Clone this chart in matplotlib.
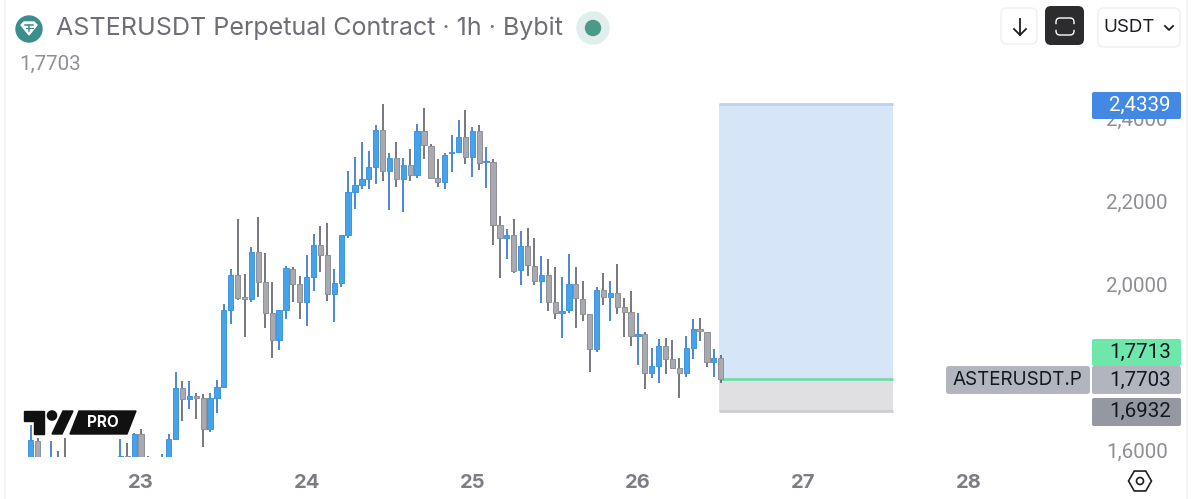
import matplotlib
matplotlib.use('Agg')
import matplotlib.pyplot as plt
from matplotlib.patches import Circle, FancyBboxPatch, Polygon, RegularPolygon

plt.rcParams['font.family'] = ['Inter', 'DejaVu Sans']
NUM_FONT = ['Roboto', 'DejaVu Sans']

# hours since the "23" tick, only candles that show above the bottom of the pane
hours = [-16, -15, -13, -12, -11, -3, -2, -1, 0, 1, 3, 4, 5, 6, 7, 8, 9, 10, 11, 12, 13, 14, 15, 16,
         17, 18, 19, 20, 21, 22, 23, 24, 25, 26, 27, 28, 29, 30, 31, 32, 33, 34, 35, 36, 37, 38, 39, 40,
         41, 42, 43, 44, 45, 46, 47, 48, 49, 50, 51, 52, 53, 54, 55, 56, 57, 58, 59, 60, 61, 62, 63, 64,
         65, 66, 67, 68, 69, 70, 71, 72, 73, 74, 75, 76, 77, 78, 79, 80, 81, 82, 83, 84]
opens = [1.540, 1.622, 1.540, 1.570, 1.575, 1.583, 1.586, 1.550, 1.639, 1.580, 1.575, 1.560, 1.627, 1.749, 1.723, 1.730, 1.725, 1.651, 1.725, 1.752, 1.937, 2.022, 1.969, 1.964,
         2.077, 2.005, 1.930, 1.865, 1.937, 2.036, 2.000, 1.957, 2.017, 2.094, 2.070, 1.976, 2.002, 2.118, 2.222, 2.239, 2.253, 2.282, 2.371, 2.272, 2.304, 2.253, 2.287, 2.263,
         2.369, 2.333, 2.255, 2.246, 2.316, 2.318, 2.354, 2.306, 2.369, 2.294, 2.294, 2.142, 2.111, 2.118, 2.034, 2.092, 2.043, 2.007, 2.022, 1.957, 1.930, 1.937, 2.000, 1.964,
         1.928, 1.843, 1.986, 1.969, 1.978, 1.945, 1.933, 1.875, 1.880, 1.786, 1.802, 1.851, 1.819, 1.798, 1.786, 1.846, 1.892, 1.884, 1.812, 1.822]
highs = [1.660, 1.629, 1.622, 1.598, 1.629, 1.627, 1.617, 1.641, 1.651, 1.586, 1.590, 1.639, 1.788, 1.766, 1.766, 1.737, 1.735, 1.737, 1.769, 1.952, 2.036, 2.157, 2.024, 2.089,
         2.161, 2.075, 2.005, 1.937, 2.043, 2.041, 2.019, 2.070, 2.120, 2.140, 2.147, 2.036, 2.118, 2.272, 2.306, 2.342, 2.320, 2.383, 2.434, 2.316, 2.342, 2.304, 2.325, 2.386,
         2.424, 2.337, 2.301, 2.316, 2.359, 2.395, 2.419, 2.378, 2.383, 2.330, 2.301, 2.164, 2.133, 2.157, 2.128, 2.135, 2.111, 2.067, 2.060, 2.041, 2.017, 2.072, 2.041, 2.007,
         1.928, 1.993, 2.027, 2.007, 2.048, 1.966, 1.983, 1.930, 1.884, 1.846, 1.867, 1.870, 1.865, 1.822, 1.875, 1.916, 1.918, 1.884, 1.843, 1.829]
lows = [1.540, 1.540, 1.540, 1.540, 1.540, 1.575, 1.575, 1.540, 1.540, 1.570, 1.570, 1.550, 1.627, 1.670, 1.699, 1.675, 1.607, 1.643, 1.689, 1.752, 1.904, 1.961, 1.872, 1.957,
        1.969, 1.894, 1.822, 1.841, 1.916, 1.957, 1.916, 1.899, 1.983, 2.029, 1.959, 1.908, 1.993, 2.111, 2.181, 2.229, 2.229, 2.241, 2.248, 2.178, 2.234, 2.173, 2.248, 2.255,
        2.301, 2.255, 2.234, 2.229, 2.270, 2.316, 2.289, 2.258, 2.275, 2.231, 2.094, 2.014, 2.060, 2.027, 1.998, 2.019, 1.998, 1.954, 1.935, 1.916, 1.870, 1.930, 1.894, 1.911,
        1.788, 1.836, 1.949, 1.911, 1.928, 1.872, 1.851, 1.805, 1.747, 1.773, 1.761, 1.783, 1.795, 1.725, 1.776, 1.819, 1.863, 1.800, 1.776, 1.761]
closes = [1.624, 1.540, 1.564, 1.550, 1.550, 1.586, 1.583, 1.639, 1.550, 1.575, 1.583, 1.627, 1.749, 1.723, 1.730, 1.725, 1.651, 1.725, 1.752, 1.937, 2.022, 1.966, 1.964, 2.077,
          2.005, 1.930, 1.865, 1.937, 2.039, 2.000, 1.957, 2.017, 2.094, 2.070, 1.976, 2.002, 2.118, 2.222, 2.239, 2.253, 2.282, 2.371, 2.272, 2.304, 2.253, 2.287, 2.263, 2.369,
          2.335, 2.255, 2.246, 2.311, 2.318, 2.354, 2.306, 2.369, 2.292, 2.296, 2.142, 2.111, 2.118, 2.031, 2.092, 2.046, 2.007, 2.022, 1.957, 1.930, 1.935, 2.000, 1.966, 1.928,
          1.843, 1.986, 1.969, 1.978, 1.945, 1.933, 1.875, 1.880, 1.786, 1.802, 1.851, 1.819, 1.798, 1.786, 1.846, 1.892, 1.887, 1.812, 1.822, 1.7703]

price_ticks = [1.6, 2.0, 2.2, 2.4]
price_labels = ['1,6000', '2,0000', '2,2000', '2,4000']
day_ticks = [0, 24, 48, 72, 96, 120]
day_labels = ['23', '24', '25', '26', '27', '28']

target = 2.4339
entry = 1.7713
stop = 1.6932
box_start = 83.8
box_end = 109

fig = plt.figure(figsize=(12, 4.99), dpi=100, facecolor='white')

# price pane
ax = fig.add_axes([6 / 1200, 42 / 499, 1084 / 1200, 367 / 499])
ax.set_xlim(-19.565, 137.5)
ax.set_ylim(1.5831, 2.4675)
for s in ax.spines.values():
    s.set_visible(False)

ax.fill_between([box_start, box_end], entry, target, color='#D6E6F8', lw=0, zorder=1)
ax.fill_between([box_start, box_end], stop, entry, color='#E0E0E2', lw=0, zorder=1)
ax.hlines(target, box_start, box_end, color='#B8D2F0', lw=2, zorder=2)
ax.hlines(stop, box_start, box_end, color='#CFCFD3', lw=2, zorder=2)
ax.hlines(1.7703, box_start, box_end, color='#70DDA8', lw=2, zorder=2)

# candles
for h, o, hi, lo, c in zip(hours, opens, highs, lows, closes):
    up = c >= o
    ax.vlines(h, lo, hi, color='#2F72D0' if up else '#606167', lw=1.2, zorder=3)
    ax.bar(h, abs(c - o), bottom=min(o, c), width=0.76, zorder=4,
           color='#46A2EA' if up else '#A9AAB1', edgecolor='#3E95DE' if up else '#8F9096', lw=0.7)

ax.set_yticks(price_ticks, price_labels)
ax.set_xticks(day_ticks, day_labels)
ax.yaxis.tick_right()
ax.tick_params(axis='y', length=0, pad=11.5, labelsize=14.8, labelcolor='#8E8F95')
ax.tick_params(axis='x', length=0, pad=12.5, labelsize=14.5, labelcolor='#7C7D84')
for t in ax.get_yticklabels():
    t.set_family(NUM_FONT)
for t in ax.get_xticklabels():
    t.set_fontweight('bold')

# header, badges and logo sit on a pixel overlay
ov = fig.add_axes([0, 0, 1, 1], zorder=5)
ov.set_xlim(0, 1200)
ov.set_ylim(499, 0)
ov.axis('off')
ov.patch.set_alpha(0)

ov.plot([5, 5], [0, 499], color='#F3F3F4', lw=1.2)
ov.plot([1187, 1187], [0, 499], color='#F3F3F4', lw=1.2)


def box(x0, y0, x1, y1, face, edge='none', r=3):
    ov.add_patch(FancyBboxPatch((x0 + r, y0 + r), x1 - x0 - 2 * r, y1 - y0 - 2 * r,
                                boxstyle=f'round,pad={r},rounding_size={r}',
                                fc=face, ec=edge, lw=1))


# tether icon
ov.add_patch(Circle((29, 29), 13, color='#3A8F8E'))
ov.add_patch(Polygon([(21, 25), (24, 22), (34, 22), (37, 25), (29, 35)], color='white'))
ov.plot([25, 33], [25, 25], color='#3A8F8E', lw=1.1)
ov.plot([29, 29], [25, 31], color='#3A8F8E', lw=1.1)
ov.plot([25.5, 32.5], [27.5, 27.5], color='#3A8F8E', lw=0.8)

ov.text(56, 28, 'ASTERUSDT Perpetual Contract · 1h · Bybit', fontsize=18.05, color='#6E6F76',
        va='center', ha='left')
ov.text(19, 64, '1,7703', fontsize=14.8, color='#909197', va='center', ha='left', family=NUM_FONT)
ov.add_patch(Circle((593, 28), 16, color='#E1EEEB'))
ov.add_patch(Circle((593, 28), 7.5, color='#4A9A86'))

# top right buttons
box(1001, 8, 1037, 44, 'white', '#EFEFF1', r=6)
ov.plot([1020, 1020], [19, 35], color='#1E1E22', lw=1.3)
ov.plot([1014, 1020, 1026], [29, 35, 29], color='#1E1E22', lw=1.3)
box(1045, 6, 1084, 45, '#2C2C2E', r=6)
box(1056, 18, 1074, 35, 'none', 'white', r=4)
ov.plot([1054, 1058], [26.5, 26.5], color='#2C2C2E', lw=4)
ov.plot([1072, 1076], [26.5, 26.5], color='#2C2C2E', lw=4)
box(1098, 8, 1180, 47, 'white', '#EFEFF1', r=6)
ov.text(1103, 27.5, 'USDT', fontsize=13.5, color='#1E1E22', va='center', ha='left')
ov.plot([1165, 1169, 1173], [26, 30, 26], color='#1E1E22', lw=1.3)

# price badges
box(1092, 92, 1181, 119, '#4389E3', r=2)
ov.text(1171, 105.5, '2,4339', fontsize=14.8, color='white', va='center', ha='right', family=NUM_FONT)
box(1092, 339, 1181, 366, '#6EE7AB', r=2)
ov.text(1171, 352, '1,7713', fontsize=14.8, color='#131722', va='center', ha='right', family=NUM_FONT)
box(1092, 366, 1181, 394, '#B2B5BE', r=2)
ov.text(1171, 380, '1,7703', fontsize=14.8, color='#131722', va='center', ha='right', family=NUM_FONT)
box(1092, 398, 1181, 426, '#9598A1', r=2)
ov.text(1171, 411, '1,6932', fontsize=14.8, color='#131722', va='center', ha='right', family=NUM_FONT)
box(946, 366, 1090, 394, '#B2B5BE', r=3)
ov.text(953, 380, 'ASTERUSDT.P', fontsize=13.6, color='#131722', va='center', ha='left')

# settings hexagon
ov.add_patch(RegularPolygon((1140, 481), 6, radius=11.5, orientation=0.5236, fc='none', ec='#1E1E22', lw=1.2))
ov.add_patch(Circle((1140, 481), 3.5, fc='none', ec='#1E1E22', lw=1.2))

# TV PRO logo
ov.add_patch(Polygon([(24, 411), (44, 411), (44, 434), (34, 434), (34, 421), (24, 421)], color='#111111'))
ov.add_patch(Circle((52, 415.5), 4.6, color='#111111'))
ov.add_patch(Polygon([(63, 411), (73, 411), (62, 434), (52, 434)], color='#111111'))
ov.add_patch(Polygon([(79, 411), (136, 411), (127, 434), (70, 434)], color='#111111'))
ov.text(103, 422.5, 'PRO', fontsize=11, fontweight='bold', color='white', va='center', ha='center')

fig.savefig('out.png', dpi=100)
